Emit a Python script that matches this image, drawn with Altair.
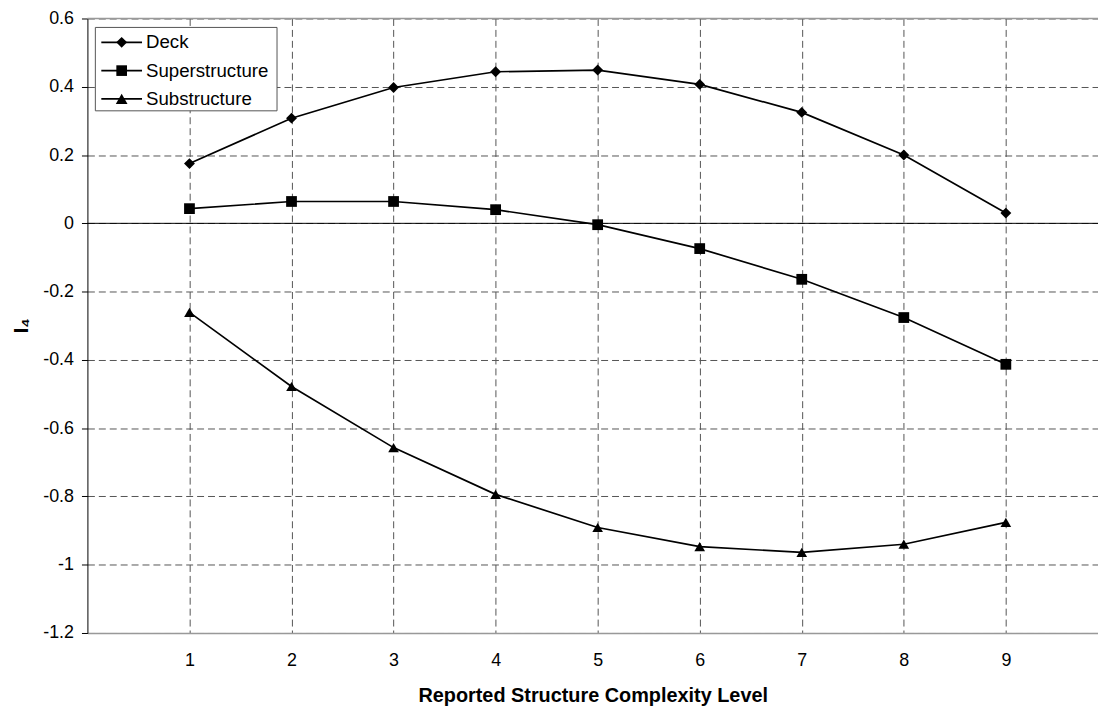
import altair as alt
import pandas as pd

levels = [1, 2, 3, 4, 5, 6, 7, 8, 9]
series_names = ["Deck", "Superstructure", "Substructure"]
deck = [0.175, 0.308, 0.398, 0.444, 0.449, 0.407, 0.325, 0.200, 0.030]
superstructure = [0.043, 0.064, 0.064, 0.040, -0.004, -0.074, -0.164, -0.276, -0.413]
substructure = [-0.261, -0.478, -0.657, -0.794, -0.891, -0.947, -0.964, -0.940, -0.876]
y_ticks = [-1.2, -1.0, -0.8, -0.6, -0.4, -0.2, 0.0, 0.2, 0.4, 0.6]
x_title = "Reported Structure Complexity Level"
y_title = "I\u2084"

shapes = ["diamond", "square", "triangle-up"]
sizes = [120, 115, 140]

rows = []
for name, vals in zip(series_names, [deck, superstructure, substructure]):
    for lv, v in zip(levels, vals):
        rows.append({"level": lv, "series": name, "value": v})
df = pd.DataFrame(rows)

W = 1018
H = 619
FONT = "Liberation Sans"
FS = 18

xscale = alt.Scale(domain=[0, 9.903], nice=False, zero=False)
yscale = alt.Scale(domain=[-1.2, 0.6], nice=False, zero=False)

X = alt.X("level:Q", scale=xscale, axis=alt.Axis(
    values=levels, title=x_title, grid=True, gridDash=[7, 4], gridColor="#555",
    gridWidth=1, ticks=False, tickSize=0, labelPadding=19, labelFontSize=FS,
    labelFont=FONT, labelColor="black", domainColor="#999", domainWidth=1.5,
    titleFont=FONT, titleFontSize=20, titleFontWeight="bold", titleColor="black",
    titleY=63, titleBaseline="middle", labelFlush=False))
Y = alt.Y("value:Q", scale=yscale, axis=alt.Axis(
    values=y_ticks, labelExpr="'' + round(datum.value*10)/10", title=y_title,
    grid=True, gridDash=[7, 4], gridColor="#555", gridWidth=1,
    tickSize=6, tickColor="black", labelPadding=8, labelFontSize=FS,
    labelFont=FONT, labelColor="black", domainColor="black", domainWidth=1,
    titleFont=FONT, titleFontSize=20, titleFontWeight="bold", titleColor="black",
    titleAngle=270, titleX=-66, titleY=309, titleAlign="center",
    titleBaseline="middle", labelFlush=False))

base = alt.Chart(df)
lines = base.mark_line(color="black", strokeWidth=1.7).encode(
    x=X, y=Y, detail="series:N")
points = base.mark_point(filled=True, color="black", opacity=1).encode(
    x=X, y=Y,
    shape=alt.Shape("series:N", scale=alt.Scale(domain=series_names, range=shapes), legend=None),
    size=alt.Size("series:N", scale=alt.Scale(domain=series_names, range=sizes), legend=None))

zero_rule = alt.Chart(alt.Data(values=[{"a": 1}])).mark_rule(color="black", strokeWidth=1).encode(
    y=alt.datum(0, scale=yscale), x=alt.value(0), x2=alt.value(W))
top_border = alt.Chart(alt.Data(values=[{"a": 1}])).mark_rule(color="#999", strokeWidth=1.5).encode(
    y=alt.value(0), x=alt.value(0), x2=alt.value(W))

# legend box
legend_layers = []
legend_layers.append(alt.Chart(alt.Data(values=[{"a": 1}])).mark_rect(
    fill="white", stroke="#555", strokeWidth=1).encode(
    x=alt.value(8), x2=alt.value(191), y=alt.value(9), y2=alt.value(93)))
for i, (name, shp, sz) in enumerate(zip(series_names, shapes, sizes)):
    ly = 24 + 28.5 * i
    one = alt.Chart(alt.Data(values=[{"a": 1}]))
    legend_layers.append(one.mark_rule(color="black", strokeWidth=1.7).encode(
        x=alt.value(14), x2=alt.value(55), y=alt.value(ly)))
    legend_layers.append(one.mark_point(filled=True, color="black", opacity=1, shape=shp, size=sz).encode(
        x=alt.value(34.5), y=alt.value(ly)))
    legend_layers.append(one.mark_text(align="left", baseline="middle", font=FONT, fontSize=18.8,
                                       color="black").encode(
        x=alt.value(59), y=alt.value(ly), text=alt.value(name)))

chart = alt.layer(zero_rule, top_border, lines, points, *legend_layers).properties(
    width=W, height=H,
    autosize=alt.AutoSizeParams(type="none"),
    padding={"left": 80, "top": 8, "right": 0, "bottom": 75},
).configure_view(stroke=None)

chart.save("out.html", embed_options={"renderer": "svg", "actions": False})
